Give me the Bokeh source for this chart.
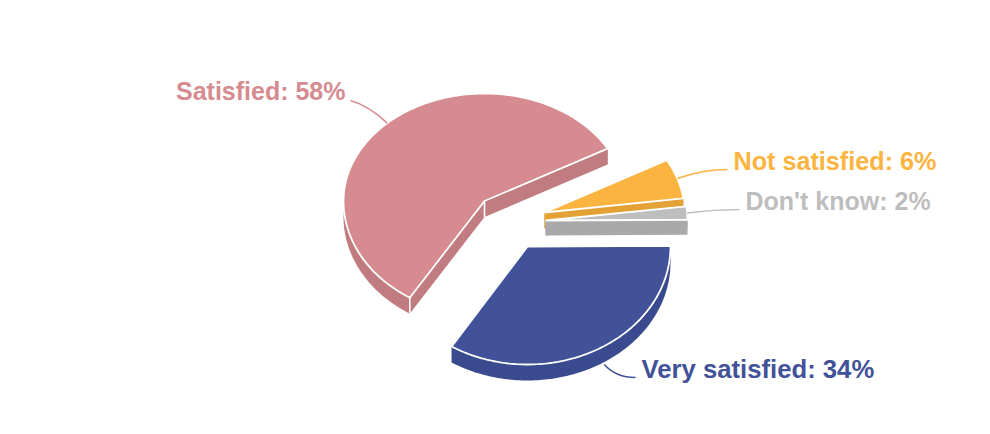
import numpy as np
from bokeh.plotting import figure
from bokeh.models import Range1d
from bokeh.core.properties import value
from bokeh.embed import file_html
from bokeh.resources import INLINE

categories = ["Satisfied", "Not satisfied", "Don't know", "Very satisfied"]
shares = [58, 6, 2, 34]
top_colors = ["#d58b8f", "#fbb440", "#bebebe", "#425298"]
side_colors = ["#c07c80", "#e3a136", "#a9a9a9", "#3a4a8e"]
# Layout only: exploded slice centres (picture pixels), label anchors
centers = [(484, 200.5), (544, 212), (545, 220), (527, 246)]
label_xy = [(345, 90, "right"), (733, 160, "left"), (745, 200, "left"), (641, 368, "left")]
RX = [141, 140, 142, 143]
RY_UP = 107.5
RY_DOWN = [114, 118, 118, 118]
DEPTH = [16, 16, 15, 16]
FONT_PX = ["25px", "25.2px", "25px", "25.7px"]
FIRST_ANGLE = 29.2  # degrees, slices run anticlockwise on screen from here

p = figure(width=974, height=418, output_backend="svg", toolbar_location=None,
           x_range=Range1d(0, 974), y_range=Range1d(418, 0), min_border=0,
           outline_line_color=None, background_fill_color="white")
p.axis.visible = False
p.grid.visible = False


def rim(i, deg):
    t = np.radians(deg)
    ry = np.where(np.sin(t) >= 0, RY_UP, RY_DOWN[i])
    return centers[i][0] + RX[i] * np.cos(t), centers[i][1] - ry * np.sin(t)


spans = [s * 3.6 for s in shares]
a_sat = (FIRST_ANGLE, FIRST_ANGLE + spans[0])
a_vs = (a_sat[1], a_sat[1] + spans[3])
a_dk = (a_vs[1], a_vs[1] + spans[2])
a_ns = (a_dk[1], a_dk[1] + spans[1])
angles = [a_sat, a_ns, a_dk, a_vs]

for i, (c, (a0, a1)) in enumerate(zip(centers, angles)):
    deg = np.linspace(a0, a1, 120)
    ax, ay = rim(i, deg)
    px = np.concatenate([[c[0]], ax])
    py = np.concatenate([[c[1]], ay])
    d = DEPTH[i]
    # extruded side: outer band plus the two straight cut faces
    band_x = np.concatenate([ax, ax[::-1]])
    band_y = np.concatenate([ay, ay[::-1] + d])
    p.patch(band_x, band_y, fill_color=side_colors[i], line_color=None)
    for k in (1, len(px) - 1):
        p.patch([px[0], px[k], px[k], px[0]], [py[0], py[k], py[k] + d, py[0] + d],
                fill_color=side_colors[i], line_color=None)
    p.patch(px, py, fill_color=top_colors[i], line_color="white", line_width=1.8)
    if i == 0:
        for k in (0, len(px) - 1):
            p.line([px[k], px[k]], [py[k], py[k] + d], line_color="white", line_width=1.6)

for i, (cat, sh) in enumerate(zip(categories, shares)):
    x, y, align = label_xy[i]
    p.text([x], [y], text=[f"{cat}: {sh}%"], text_color=top_colors[i],
           text_font=value("Liberation Sans"), text_font_style="bold",
           text_font_size=FONT_PX[i], text_align=align, text_baseline="middle")
    # connector from the slice's mid angle to its label
    mid = (angles[i][0] + angles[i][1]) / 2
    sx, sy = rim(i, mid)
    sx = float(sx)
    sy = float(sy)
    if i == 3:
        sx, sy = sx + 7, sy + DEPTH[i] - 1
    sign = -1 if align == "right" else 1
    ex, ey = x - sign * 6, y + 9
    if i == 0:
        ex, ey = x + 5, y + 10
    cx = (sx + ex) / 2 - (4 if i == 3 else 0)
    cy = ey if i != 0 else (sy + ey) / 2 - 6
    p.quadratic([sx], [sy], [ex], [ey], [cx], [cy], line_color=top_colors[i], line_width=1.5)

open("out.html", "w").write(file_html(p, INLINE))
